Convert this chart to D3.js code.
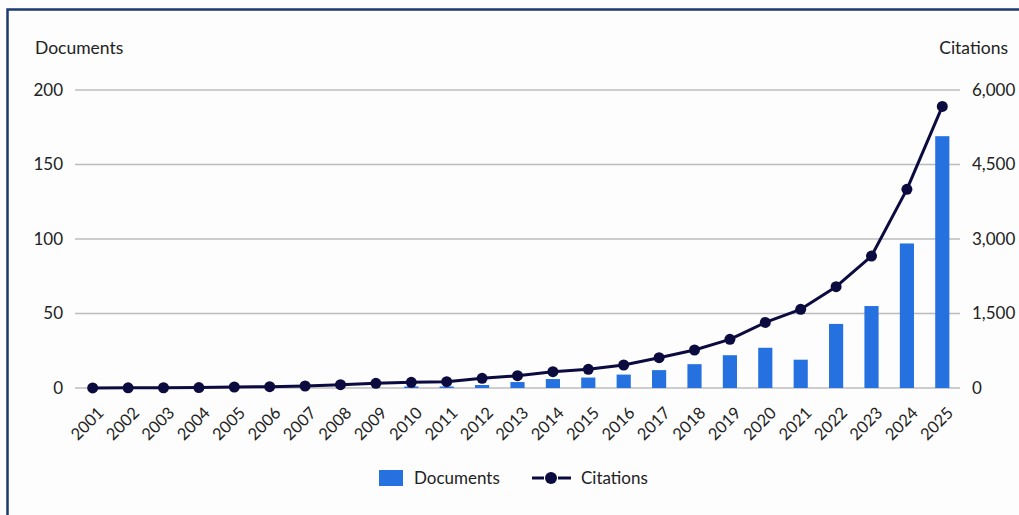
<!DOCTYPE html>
<html><head><meta charset="utf-8">
<script src="https://cdn.jsdelivr.net/npm/d3@7"></script>
<style>
html,body{margin:0;padding:0;background:#fff;}
text{font-family:Lato,"Open Sans",sans-serif;fill:#222;}
</style></head>
<body>
<svg id="chart" width="1019" height="515"></svg>
<script>
const years = ["2001","2002","2003","2004","2005","2006","2007","2008","2009","2010","2011","2012","2013","2014","2015","2016","2017","2018","2019","2020","2021","2022","2023","2024","2025"];
const documents = [0,0,0,0,0,0,0,0,0,1,1,2,4,6,7,9,12,16,22,27,19,43,55,97,169];
const citations = [2,3,5,8,20,27,40,66,95,115,127,195,248,328,376,463,610,765,980,1320,1584,2040,2657,4000,5670];
const leftTicks = [0,50,100,150,200];
const rightTicks = [0,1500,3000,4500,6000];

const svg = d3.select("#chart");
const W = 1019, H = 515;
svg.append("rect").attr("x",0).attr("y",0).attr("width",W).attr("height",H).attr("fill","#fdfdfd");
svg.append("rect").attr("x",7.5).attr("y",9.5).attr("width",W+20).attr("height",H+20)
  .attr("fill","none").attr("stroke","#1d3a72").attr("stroke-width",2.5);

const plot = {left:75, right:960, top:90, bottom:388};
const x = d3.scaleBand().domain(years).range([plot.left, plot.right]).paddingInner(0.6).paddingOuter(0.3);
const yL = d3.scaleLinear().domain([0,200]).range([plot.bottom, plot.top]);
const yR = d3.scaleLinear().domain([0,6000]).range([plot.bottom, plot.top]);

// gridlines
svg.append("g").selectAll("line").data(leftTicks).join("line")
  .attr("x1",plot.left).attr("x2",plot.right)
  .attr("y1",d=>yL(d)).attr("y2",d=>yL(d))
  .attr("stroke","#bcbcbc").attr("stroke-width",1.5);

// left axis
const gl = svg.append("g").attr("transform",`translate(${plot.left},0)`)
  .call(d3.axisLeft(yL).tickValues(leftTicks).tickSize(0).tickPadding(12));
gl.select(".domain").remove();
gl.selectAll("text").style("font-size","17px").style("font-family","Lato, sans-serif").attr("fill","#222");

// right axis
const gr = svg.append("g").attr("transform",`translate(${plot.right},0)`)
  .call(d3.axisRight(yR).tickValues(rightTicks).tickSize(0).tickPadding(12).tickFormat(d3.format(",")));
gr.select(".domain").remove();
gr.selectAll("text").style("font-size","17px").style("font-family","Lato, sans-serif").attr("fill","#222");

// titles
svg.append("text").attr("x",35).attr("y",54).text("Documents").style("font-size","17.5px");
svg.append("text").attr("x",1008).attr("y",54).attr("text-anchor","end").text("Citations").style("font-size","17.5px");

// bars
svg.append("g").selectAll("rect").data(documents).join("rect")
  .attr("x",(d,i)=>x(years[i])).attr("width",x.bandwidth())
  .attr("y",d=>yL(d)).attr("height",d=>plot.bottom-yL(d))
  .attr("fill","#2571e0");

// x axis labels
const gx = svg.append("g").attr("transform",`translate(0,${plot.bottom})`)
  .call(d3.axisBottom(x).tickSize(0).tickPadding(0));
gx.select(".domain").remove();
gx.selectAll("text").style("font-size","16.5px").style("font-family","Lato, sans-serif").attr("fill","#222")
  .attr("text-anchor","end").attr("dy","0.35em")
  .attr("transform","translate(8,22) rotate(-45)");

// line
const cx = d => x(d) + x.bandwidth()/2;
const line = d3.line().x((d,i)=>cx(years[i])).y(d=>yR(d));
svg.append("path").datum(citations).attr("d",line).attr("fill","none")
  .attr("stroke","#0b0b40").attr("stroke-width",3).attr("stroke-linejoin","round");
svg.append("g").selectAll("circle").data(citations).join("circle")
  .attr("cx",(d,i)=>cx(years[i])).attr("cy",d=>yR(d)).attr("r",5.5).attr("fill","#0b0b40");

// legend
const lg = svg.append("g");
lg.append("rect").attr("x",379).attr("y",470).attr("width",24).attr("height",16).attr("fill","#2571e0");
lg.append("text").attr("x",414).attr("y",484).text("Documents").style("font-size","17px");
lg.append("line").attr("x1",532).attr("x2",544).attr("y1",478).attr("y2",478).attr("stroke","#0b0b40").attr("stroke-width",3);
lg.append("line").attr("x1",558).attr("x2",571).attr("y1",478).attr("y2",478).attr("stroke","#0b0b40").attr("stroke-width",3);
lg.append("circle").attr("cx",551).attr("cy",478).attr("r",6).attr("fill","#0b0b40");
lg.append("text").attr("x",581).attr("y",484).text("Citations").style("font-size","17px");
</script>
</body></html>
